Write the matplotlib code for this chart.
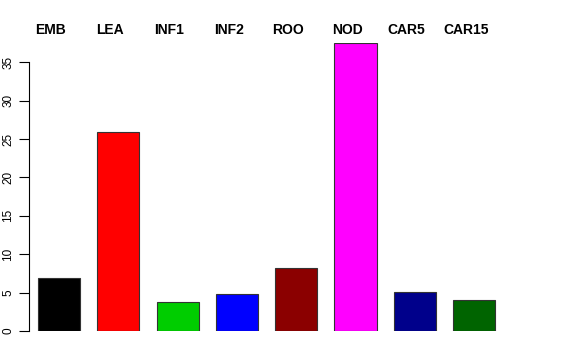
import matplotlib
matplotlib.use("Agg")
import matplotlib.pyplot as plt
import numpy as np

plt.rcParams['font.family'] = ['Liberation Sans', 'DejaVu Sans']

# tissue names and values
tissues = ["EMB", "LEA", "INF1", "INF2", "ROO", "NOD", "CAR5", "CAR15"]
values = [6.9, 25.9, 3.75, 4.8, 8.2, 37.5, 5.05, 4.0]
colors = ["#000000", "#FF0000", "#00CD00", "#0000FF", "#8B0000", "#FF00FF", "#00008B", "#006400"]
yticks = [0, 5, 10, 15, 20, 25, 30, 35]

W, H = 576, 360
fig = plt.figure(figsize=(W / 100, H / 100), dpi=100)
# plot region in pixels: left 29, right 547, bottom 331, top 43
ax = fig.add_axes([29 / W, (H - 331) / H, (547 - 29) / W, (331 - 43) / H])

x = np.arange(len(tissues))
ax.bar(x, values, width=0.71, color=colors, edgecolor="#333333", linewidth=0.8)

px_per_unit = 59.3
x0 = -30 / px_per_unit
ax.set_xlim(x0, x0 + (547 - 29) / px_per_unit)
ax.set_ylim(0, 37.5)

for s in ["top", "right", "bottom"]:
    ax.spines[s].set_visible(False)
ax.spines["left"].set_bounds(0, 35)
ax.spines["left"].set_linewidth(0.8)
ax.set_xticks([])
ax.set_yticks(yticks)
ax.set_yticklabels([str(t) for t in yticks], rotation=90, va="center", fontsize=8.5)
ax.tick_params(axis="y", length=7, width=0.8, pad=3.5)

# bold names above the bars
for xi, name in zip(x, tissues):
    ax.text(xi - 0.14, 1.0 + 13 / 288, name, transform=ax.get_xaxis_transform(),
            ha="center", va="center", fontsize=10, fontweight="bold", clip_on=False)

fig.savefig("out.png", dpi=100)
